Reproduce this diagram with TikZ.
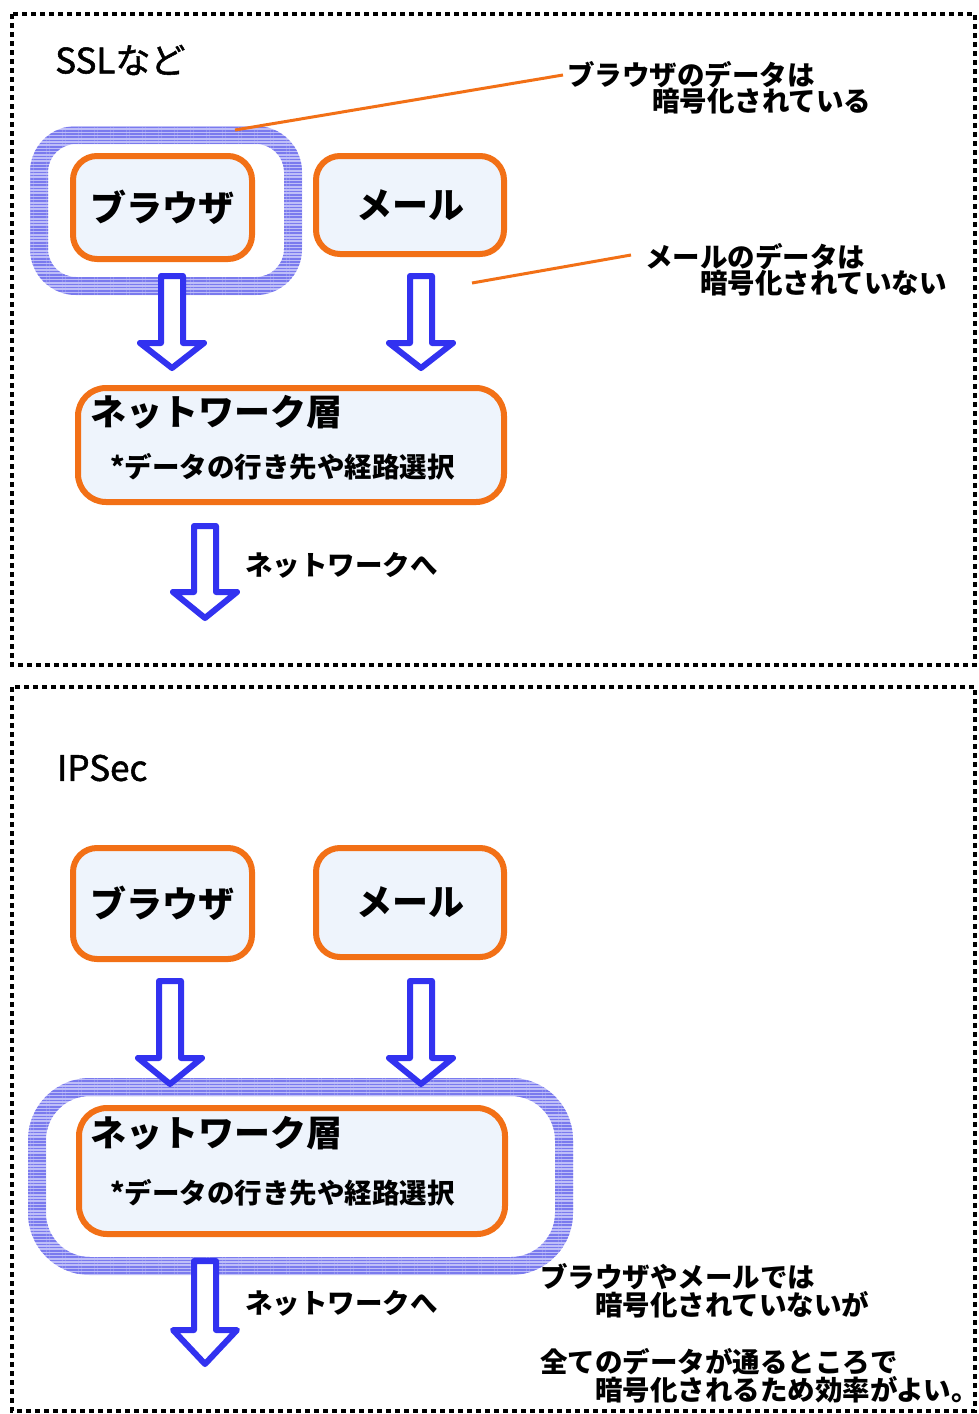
\documentclass[tikz,border=0pt]{standalone}
\usepackage{fontspec}
\setmainfont{Noto Sans CJK JP}
\newfontfamily\ttlfam{Noto Sans CJK JP}[FakeBold=1.5]
\usetikzlibrary{patterns.meta}
\definecolor{orangeline}{RGB}{242,112,22}
\definecolor{boxfill}{RGB}{238,244,252}
\definecolor{arrowblue}{RGB}{50,50,240}
\definecolor{ringlight}{RGB}{190,190,248}
\definecolor{ringdark}{RGB}{122,122,238}
\newcommand{\ttlfont}{\fontsize{35}{40}\selectfont\ttlfam}
\newcommand{\lblfont}{\fontsize{36}{40}\selectfont\bfseries}
\newcommand{\smfont}{\fontsize{27.5}{32}\selectfont\bfseries}
\newcommand{\hollowarr}[4]{% cx, ytop, yhead, ytip
  \draw[hollow] ({#1-11},#2) -- ({#1+11},#2) -- ({#1+11},#3) -- ({#1+32},#3)
    -- (#1,#4) -- ({#1-32},#3) -- ({#1-11},#3) -- cycle;}
\newcommand{\ringshape}[9]{% outer x1 y1 x2 y2 r, inner x1 y1 x2 y2
  \fill[ringlight, even odd rule]
    [rounded corners=#5] (#1,#2) rectangle (#3,#4)
    [rounded corners=#5-18] (#6,#7) rectangle (#8,#9);
  \fill[pattern={Lines[angle=0,distance=3.2pt,line width=1.6pt]}, pattern color=ringdark, even odd rule]
    [rounded corners=#5] (#1,#2) rectangle (#3,#4)
    [rounded corners=#5-18] (#6,#7) rectangle (#8,#9);}
\tikzset{
  panel/.style={draw=black, line width=4pt, dash pattern=on 5pt off 4pt},
  obox/.style={draw=orangeline, line width=6pt, fill=boxfill, rounded corners=24pt,
    inner sep=0pt, font=\lblfont},
  hollow/.style={draw=arrowblue, line width=6pt, fill=white, line join=round},
  txt/.style={anchor=west, inner sep=0pt, font=\smfont},
  callout/.style={draw=orangeline, line width=3pt},
}
\begin{document}
\begin{tikzpicture}[x=1pt,y=-1pt]
\useasboundingbox (0,0) rectangle (978,1414);
\fill[white] (0,0) rectangle (978,1414);

% panels
\draw[panel] (12,14) rectangle (975,665);
\draw[panel] (12,687) rectangle (975,1411);

% ===== top panel: SSL =====
\node[anchor=west, inner sep=0pt, font=\ttlfont] (t1) at (55,60) {SSLなど};

\ringshape{30}{126}{302}{295}{46}{48}{144}{284}{277}
\coordinate (ringtop) at (235,130);

\node[obox, minimum width=179pt, minimum height=103pt] (br1) at (162.5,207.5) {ブラウザ};
\node[obox, minimum width=188pt, minimum height=98pt] (ml1) at (410,205) {メール};
\node[obox, minimum width=426pt, minimum height=114pt, rounded corners=28pt] (nw1) at (291,445) {};
\node[anchor=west, inner sep=0pt, font=\lblfont] (nw1a) at (90,412) {ネットワーク層};
\node[txt] (nw1b) at (110,467) {*データの行き先や経路選択};

\hollowarr{172}{276}{343}{368}
\hollowarr{421}{276}{343}{368}
\hollowarr{205}{526}{592}{618}
\node[txt] (to1) at (245,565) {ネットワークへ};

\node[txt] (c1a) at (567,75) {ブラウザのデータは};
\node[txt] (c1b) at (652,101) {暗号化されている};
\node[txt] (c2a) at (645,257) {メールのデータは};
\node[txt] (c2b) at (700,283) {暗号化されていない};
\coordinate (c2start) at (472,283);
\draw[callout] (ringtop) -- ([xshift=-4pt]c1a.west);
\draw[callout] (c2start) -- ([xshift=-14pt,yshift=2pt]c2a.west);

% ===== bottom panel: IPSec =====
\node[anchor=west, inner sep=0pt, font=\ttlfont] (t2) at (57,768) {IPSec};

\node[obox, minimum width=179pt, minimum height=111pt] (br2) at (162.5,903.5) {ブラウザ};
\node[obox, minimum width=188pt, minimum height=109pt] (ml2) at (410,902.5) {メール};

\ringshape{28}{1078}{573}{1275}{62}{46}{1096}{555}{1257}

\node[obox, minimum width=426pt, minimum height=126pt, rounded corners=28pt] (nw2) at (292,1171) {};
\node[anchor=west, inner sep=0pt, font=\lblfont] (nw2a) at (90,1133) {ネットワーク層};
\node[txt] (nw2b) at (110,1193) {*データの行き先や経路選択};

\hollowarr{170}{981}{1058}{1084}
\hollowarr{421}{981}{1058}{1084}
\hollowarr{205}{1261}{1330}{1364}
\node[txt] (to2) at (245,1303) {ネットワークへ};

\node[txt] (d1) at (540,1277) {ブラウザやメールでは};
\node[txt] (d2) at (595,1305) {暗号化されていないが};
\node[txt] (d3) at (540,1362) {全てのデータが通るところで};
\node[txt] (d4) at (595,1390) {暗号化されるため効率がよい。};
\end{tikzpicture}
\end{document}
